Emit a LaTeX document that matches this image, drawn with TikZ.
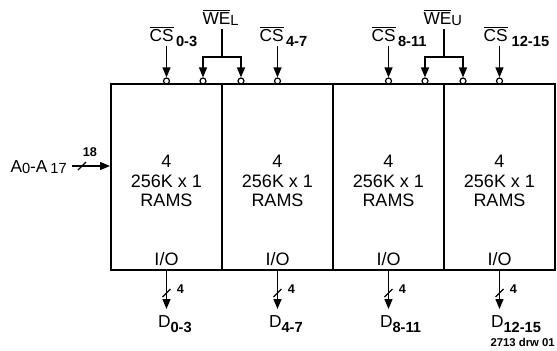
\documentclass[tikz,border=0pt]{standalone}
\usepackage{fontspec}
\setmainfont{Liberation Sans}
\usetikzlibrary{arrows.meta}

\tikzset{every picture/.style={line width=0.75pt}}
\tikzset{
  bank/.style={draw, line width=1.5pt, minimum width=83.25pt, minimum height=139.5pt, inner sep=0pt},
  ramtext/.style={font=\fontsize{13.5}{14.5}\selectfont, align=center, inner sep=0pt},
  bubble/.style={circle, draw, fill=white, line width=0.9pt, minimum size=4.5pt, inner sep=0pt},
  sig/.style={-{Triangle[length=7.5pt,width=6pt]}, line width=1pt},
  wire/.style={line width=1pt},
  pinlbl/.style={font=\fontsize{13}{15}\selectfont, inner sep=0pt, anchor=base west},
  buslbl/.style={font=\fontsize{9.5}{11}\bfseries\selectfont, inner sep=0pt},
  drwlbl/.style={font=\fontsize{8.5}{10}\bfseries\selectfont, inner sep=0pt, anchor=base west}
}
\newcommand{\pinsub}[1]{\raisebox{-4pt}{\fontsize{11}{13}\bfseries\selectfont #1}}
\newcommand{\negsig}[1]{$\overline{\mbox{#1}}$}
\newcommand{\smallidx}[1]{\raisebox{-1pt}{\fontsize{11}{13}\selectfont #1}}

\begin{document}
\begin{tikzpicture}[x=0.75pt,y=0.75pt,yscale=-1,xscale=1]
\useasboundingbox (0,0) rectangle (557,350);

%RAM banks
\node[bank] (bank0) at (166.5,177) {};
\node[bank] (bank1) at (277.5,177) {};
\node[bank] (bank2) at (388.5,177) {};
\node[bank] (bank3) at (499.5,177) {};

% Text Node
\node[ramtext] (ram0) at ([yshift=3pt]bank0.center) {4\\256K x 1\\RAMS};
\node[ramtext] (ram1) at ([yshift=3pt]bank1.center) {4\\256K x 1\\RAMS};
\node[ramtext] (ram2) at ([yshift=3pt]bank2.center) {4\\256K x 1\\RAMS};
\node[ramtext] (ram3) at ([yshift=3pt]bank3.center) {4\\256K x 1\\RAMS};
% Text Node
\node[ramtext, anchor=base] (io0) at ([yshift=-4pt]bank0.south) {I/O};
\node[ramtext, anchor=base] (io1) at ([yshift=-4pt]bank1.south) {I/O};
\node[ramtext, anchor=base] (io2) at ([yshift=-4pt]bank2.south) {I/O};
\node[ramtext, anchor=base] (io3) at ([yshift=-4pt]bank3.south) {I/O};

%Inversion bubbles
\node[bubble] (cs0b) at (166.5,81) {};
\node[bubble] (weL0) at (203,81) {};
\node[bubble] (weL1) at (241,81) {};
\node[bubble] (cs1b) at (277.5,81) {};
\node[bubble] (cs2b) at (388.5,81) {};
\node[bubble] (weU0) at (425,81) {};
\node[bubble] (weU1) at (463,81) {};
\node[bubble] (cs3b) at (499.5,81) {};

% Text Node
\node[pinlbl] (cs0) at (149,41) {\negsig{CS}\pinsub{\,0-3}};
\node[pinlbl] (cs1) at (259,41) {\negsig{CS}\pinsub{\,4-7}};
\node[pinlbl] (cs2) at (371,41) {\negsig{CS}\pinsub{\,8-11}};
\node[pinlbl] (cs3) at (483,41) {\negsig{CS}\pinsub{\;12-15}};
\node[pinlbl] (weL) at (202,24) {\negsig{WE}\smallidx{L}};
\node[pinlbl] (weU) at (423,24) {\negsig{WE}\smallidx{U}};

%Straight Lines
\coordinate (cs0in) at (166.5,46);
\coordinate (cs1in) at (277.5,46);
\coordinate (cs2in) at (388.5,46);
\coordinate (cs3in) at (499.5,46);
\draw[sig] (cs0in) -- (cs0b.north);
\draw[sig] (cs1in) -- (cs1b.north);
\draw[sig] (cs2in) -- (cs2b.north);
\draw[sig] (cs3in) -- (cs3b.north);
%Write enable forks
\coordinate (weLtop) at (222,29);
\coordinate (weLj) at (222,57);
\draw[wire] (weLtop) -- (weLj);
\draw[sig] (weLj) -| (weL0.north);
\draw[sig] (weLj) -| (weL1.north);
\coordinate (weUtop) at (444,29);
\coordinate (weUj) at (444,57);
\draw[wire] (weUtop) -- (weUj);
\draw[sig] (weUj) -| (weU0.north);
\draw[sig] (weUj) -| (weU1.north);

%Address bus
\node[pinlbl] (addr) at (10,172) {A\smallidx{0}-A\,\smallidx{17}};
\coordinate (ain) at (72,166);
\draw[sig] (ain) -- (ain -| bank0.west);
\coordinate (asl) at (82,166);
\draw[wire] (asl) ++(-4,4) -- ++(8,-8);
\node[buslbl] (aw) at (90,152) {18};

%Data buses
\coordinate (d0end) at (166.5,309);
\coordinate (d1end) at (277.5,309);
\coordinate (d2end) at (388.5,309);
\coordinate (d3end) at (499.5,309);
\draw[sig] (bank0.south) -- (d0end);
\draw[sig] (bank1.south) -- (d1end);
\draw[sig] (bank2.south) -- (d2end);
\draw[sig] (bank3.south) -- (d3end);
\coordinate (d0sl) at (166.5,293);
\coordinate (d1sl) at (277.5,293);
\coordinate (d2sl) at (388.5,293);
\coordinate (d3sl) at (499.5,293);
\draw[wire] (d0sl) ++(-4,4) -- ++(8,-8);
\draw[wire] (d1sl) ++(-4,4) -- ++(8,-8);
\draw[wire] (d2sl) ++(-4,4) -- ++(8,-8);
\draw[wire] (d3sl) ++(-4,4) -- ++(8,-8);
% Text Node
\node[buslbl] (d0w) at (180.5,289) {4};
\node[buslbl] (d1w) at (291.5,289) {4};
\node[buslbl] (d2w) at (402.5,289) {4};
\node[buslbl] (d3w) at (513.5,289) {4};
% Text Node
\node[pinlbl] (d0) at (157.5,327) {D\pinsub{0-3}};
\node[pinlbl] (d1) at (268.5,327) {D\pinsub{4-7}};
\node[pinlbl] (d2) at (379.5,327) {D\pinsub{8-11}};
\node[pinlbl] (d3) at (490.5,327) {D\pinsub{12-15}};

% Text Node
\node[drwlbl] (drw) at (490,346) {2713 drw 01};

\end{tikzpicture}
\end{document}
